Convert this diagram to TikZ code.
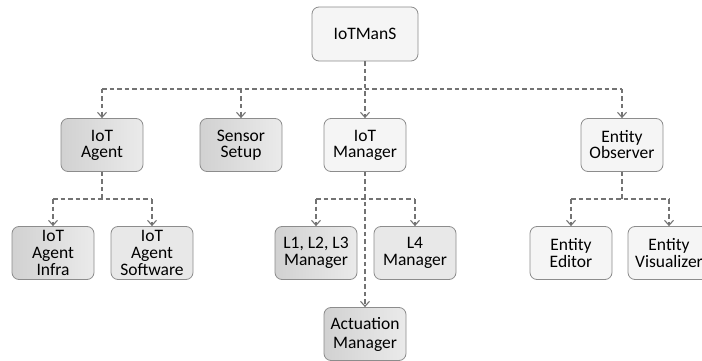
\documentclass[tikz,border=0pt]{standalone}
\usepackage{fontspec}
\setmainfont{Carlito}
\usepackage{tikz}
\usetikzlibrary{arrows.meta}

\begin{document}
\begin{tikzpicture}[x=1pt, y=-1pt,
    box/.style={draw=black!45, line width=0.8pt, rounded corners=7pt,
        minimum width=82pt, minimum height=53pt, inner sep=1pt,
        align=center, font=\fontsize{17.5}{16}\selectfont},
    plain/.style={box, fill=black!4},
    mid/.style={box, fill=black!9},
    dark/.style={box, left color=black!18, right color=black!8},
    link/.style={draw=black!55, line width=1.1pt, dash pattern=on 4.5pt off 3pt},
    tip/.style={link, -{Straight Barb[length=5pt, width=9pt]}}
]
\useasboundingbox (0,0) rectangle (702,361);
\clip (0,0) rectangle (702,361);

\node[plain, minimum width=106pt, minimum height=54pt] (iotmans) at (365,34) {IoTManS};

% first level
\foreach \name/\txt/\look/\x in {
    agent/{IoT\\Agent}/dark/102,
    sensor/{Sensor\\Setup}/dark/241,
    manager/{IoT\\Manager}/plain/365,
    observer/{Entity\\Observer}/plain/622
} {
    \node[\look] (\name) at (\x,145) {\txt};
}

% second level
\foreach \name/\txt/\look/\x in {
    infra/{IoT\\Agent\\Infra}/dark/53,
    software/{IoT\\Agent\\Software}/mid/152,
    lmanager/{L1, L2, L3\\Manager}/dark/316,
    lfour/{L4\\Manager}/mid/415,
    editor/{Entity\\Editor}/plain/571,
    visualizer/{Entity\\Visualizer}/plain/669
} {
    \node[\look, font=\fontsize{17.5}{17}\selectfont] (\name) at (\x,253) {\txt};
}

\node[dark, font=\fontsize{17.5}{19}\selectfont] (actuation) at (365,334) {Actuation\\Manager};

% connectors
\coordinate (busA) at (0,89);
\coordinate (busB) at (0,199);

\draw[link] (agent.north |- busA) -- (observer.north |- busA);
\draw[tip] (iotmans.south) -- (manager.north);
\foreach \n in {agent,sensor,observer}
    \draw[tip] (\n.north |- busA) -- (\n.north);

\foreach \p/\a/\b in {agent/infra/software, manager/lmanager/lfour, observer/editor/visualizer} {
    \draw[link] (\p.south) -- (\p.south |- busB);
    \draw[link] (\a.north |- busB) -- (\b.north |- busB);
    \draw[tip] (\a.north |- busB) -- (\a.north);
    \draw[tip] (\b.north |- busB) -- (\b.north);
}
\draw[tip] (manager.south) -- (actuation.north);
\end{tikzpicture}
\end{document}
